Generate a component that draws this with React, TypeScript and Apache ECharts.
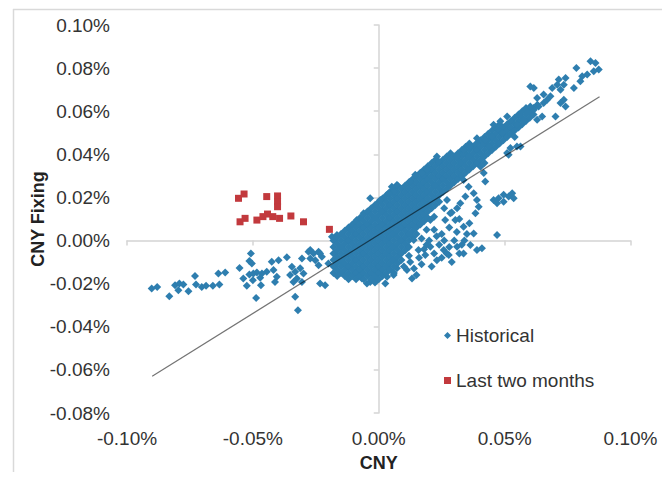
import React, { useEffect, useRef } from "react";
import * as echarts from "echarts";

// Daily moves, in percent: CNY spot (x) vs CNY fixing (y)
const historicalTail: number[][] = [
  [-0.0902, -0.0222], [-0.088, -0.0215], [-0.0832, -0.0258], [-0.0809, -0.0207], [-0.0792, -0.0199],
  [-0.0776, -0.0204], [-0.0796, -0.023], [-0.0756, -0.0235], [-0.073, -0.0164], [-0.0726, -0.0204],
  [-0.0703, -0.0215], [-0.0686, -0.021], [-0.0659, -0.021], [-0.0633, -0.0204], [-0.0637, -0.0153],
  [-0.061, -0.0148], [-0.0553, -0.0127], [-0.0538, -0.0176], [-0.0524, -0.021], [-0.0514, -0.0157],
  [-0.0508, -0.006], [-0.0514, -0.0095], [-0.0498, -0.0153], [-0.0484, -0.0148], [-0.0464, -0.0153],
  [-0.0471, -0.0173], [-0.05, -0.0184], [-0.0487, -0.0266], [-0.0468, -0.0207], [-0.0504, -0.0106],
  [-0.0425, -0.0098], [-0.0398, -0.0091], [-0.0365, -0.0078], [-0.0445, -0.0145], [-0.0418, -0.0137],
  [-0.0405, -0.0168], [-0.0412, -0.0192], [-0.0345, -0.0122], [-0.0332, -0.0145], [-0.0312, -0.0129],
  [-0.0299, -0.0153], [-0.0325, -0.0176], [-0.0305, -0.0192], [-0.0339, -0.0192], [-0.0352, -0.016],
  [-0.0279, -0.0052], [-0.0259, -0.006], [-0.0239, -0.0052], [-0.0226, -0.0075], [-0.0252, -0.0091],
  [-0.0239, -0.0114], [-0.0272, -0.0083], [-0.02, -0.0106], [-0.0233, -0.0199], [-0.0213, -0.0207],
  [-0.0332, -0.0261], [-0.0321, -0.0323], [-0.0305, -0.0083], [-0.0272, -0.0044], [-0.0233, -0.006],
  [-0.0186, 0.0018], [-0.0166, 0.0026], [-0.0074, -0.0137], [-0.0047, -0.0199], [-0.0014, -0.0184],
  [-0.0007, -0.0129], [-0.0113, 0.0049], [-0.0087, 0.0095], [-0.006, 0.0127], [-0.0034, 0.0196],
  [-0.0166, -0.0091], [-0.014, -0.0106], [-0.0113, -0.0122], [-0.0087, -0.0145], [-0.0067, -0.0176],
  [-0.0034, -0.0192], [-0.0021, -0.0153], [0.0006, -0.0137], [0.0026, -0.0199], [0.0033, -0.0168],
  [0.0059, -0.016], [0.0072, -0.0129], [0.0132, -0.0176], [0.0112, -0.0137], [0.0125, -0.0099],
];

// Dense core of the cloud, column by column: [x, y values]
const historicalCore: [number, number[]][] = [
  [-0.018, [0, -0.003, -0.006, -0.009, -0.012, -0.015]],
  [-0.0165, [0.0015, -0.0015, -0.0045, -0.0075, -0.0105, -0.0135, -0.0165]],
  [-0.015, [0.003, 0, -0.003, -0.006, -0.009, -0.012, -0.015]],
  [-0.0135, [0.0045, 0.0015, -0.0015, -0.0045, -0.0075, -0.0105, -0.0135, -0.0165]],
  [-0.012, [0.006, 0.003, 0, -0.003, -0.006, -0.009, -0.012, -0.015, -0.018]],
  [-0.0105, [0.0075, 0.0045, 0.0015, -0.0015, -0.0045, -0.0075, -0.0105, -0.0135, -0.0165]],
  [-0.009, [0.009, 0.006, 0.003, 0, -0.003, -0.006, -0.009, -0.012, -0.015, -0.018]],
  [-0.0075, [0.0105, 0.0075, 0.0045, 0.0015, -0.0015, -0.0045, -0.0075, -0.0105, -0.0135, -0.0165]],
  [-0.006, [0.012, 0.009, 0.006, 0.003, 0, -0.003, -0.006, -0.009, -0.012, -0.015, -0.018]],
  [-0.0045, [0.0135, 0.0105, 0.0075, 0.0045, 0.0015, -0.0015, -0.0045, -0.0075, -0.0105, -0.0135, -0.0165]],
  [-0.003, [0.015, 0.012, 0.009, 0.006, 0.003, 0, -0.003, -0.006, -0.009, -0.012, -0.015, -0.018]],
  [-0.0015, [0.0165, 0.0135, 0.0105, 0.0075, 0.0045, 0.0015, -0.0015, -0.0045, -0.0075, -0.0105, -0.0135, -0.0165, -0.0195]],
  [0, [0.018, 0.015, 0.012, 0.009, 0.006, 0.003, 0, -0.003, -0.006, -0.009, -0.012, -0.015, -0.018]],
  [0.0015, [0.0195, 0.0165, 0.0135, 0.0105, 0.0075, 0.0045, 0.0015, -0.0015, -0.0045, -0.0075, -0.0105, -0.0135, -0.0165]],
  [0.003, [0.021, 0.018, 0.015, 0.012, 0.009, 0.006, 0.003, 0, -0.003, -0.006, -0.009, -0.012, -0.015]],
  [0.0045, [0.0225, 0.0195, 0.0165, 0.0135, 0.0105, 0.0075, 0.0045, 0.0015, -0.0015, -0.0045, -0.0075, -0.0105, -0.0135]],
  [0.006, [0.024, 0.021, 0.018, 0.015, 0.012, 0.009, 0.006, 0.003, 0, -0.003, -0.006, -0.009, -0.012, -0.015]],
  [0.0075, [0.0255, 0.0225, 0.0195, 0.0165, 0.0135, 0.0105, 0.0075, 0.0045, 0.0015, -0.0015, -0.0045, -0.0075, -0.0105]],
  [0.009, [0.024, 0.021, 0.018, 0.015, 0.012, 0.009, 0.006, 0.003, 0, -0.003, -0.006, -0.009]],
  [0.0105, [0.0255, 0.0225, 0.0195, 0.0165, 0.0135, 0.0105, 0.0075, 0.0045, 0.0015, -0.0015, -0.0045]],
  [0.012, [0.027, 0.024, 0.021, 0.018, 0.015, 0.012, 0.009, 0.006, 0.003, 0, -0.003]],
  [0.0135, [0.0285, 0.0255, 0.0225, 0.0195, 0.0165, 0.0135, 0.0105, 0.0075, 0.0045, 0.0015]],
  [0.015, [0.03, 0.027, 0.024, 0.021, 0.018, 0.015, 0.012, 0.009, 0.006, 0.003]],
  [0.0165, [0.0315, 0.0285, 0.0255, 0.0225, 0.0195, 0.0165, 0.0135, 0.0105, 0.0075]],
  [0.018, [0.033, 0.03, 0.027, 0.024, 0.021, 0.018, 0.015, 0.012, 0.009]],
  [0.0195, [0.0345, 0.0315, 0.0285, 0.0255, 0.0225, 0.0195, 0.0165, 0.0135, 0.0105]],
  [0.021, [0.036, 0.033, 0.03, 0.027, 0.024, 0.021, 0.018, 0.015]],
  [0.0225, [0.0375, 0.0345, 0.0315, 0.0285, 0.0255, 0.0225, 0.0195, 0.0165]],
  [0.024, [0.036, 0.033, 0.03, 0.027, 0.024, 0.021, 0.018]],
  [0.0255, [0.0375, 0.0345, 0.0315, 0.0285, 0.0255, 0.0225]],
  [0.027, [0.039, 0.036, 0.033, 0.03, 0.027, 0.024]],
  [0.0285, [0.0405, 0.0375, 0.0345, 0.0315, 0.0285, 0.0255]],
  [0.03, [0.039, 0.036, 0.033, 0.03, 0.027]],
  [0.0315, [0.0405, 0.0375, 0.0345, 0.0315, 0.0285]],
  [0.033, [0.042, 0.039, 0.036, 0.033, 0.03]],
  [0.0345, [0.0435, 0.0405, 0.0375, 0.0345, 0.0315]],
  [0.036, [0.045, 0.042, 0.039, 0.036, 0.033]],
  [0.0375, [0.0435, 0.0405, 0.0375, 0.0345]],
  [0.039, [0.045, 0.042, 0.039, 0.036]],
  [0.0405, [0.0465, 0.0435, 0.0405, 0.0375, 0.0345]],
  [0.042, [0.048, 0.045, 0.042, 0.039, 0.036]],
  [0.0435, [0.0495, 0.0465, 0.0435, 0.0405]],
  [0.045, [0.051, 0.048, 0.045, 0.042]],
  [0.0465, [0.0525, 0.0495, 0.0465, 0.0435]],
  [0.048, [0.054, 0.051, 0.048, 0.045]],
  [0.0495, [0.0525, 0.0495, 0.0465]],
  [0.051, [0.054, 0.051, 0.048]],
  [0.0525, [0.0555, 0.0525, 0.0495]],
  [0.054, [0.057, 0.054, 0.051, 0.048]],
  [0.0555, [0.0585, 0.0555, 0.0525]],
  [0.057, [0.06, 0.057, 0.054]],
  [0.0585, [0.0615, 0.0585, 0.0555]],
  [0.06, [0.06, 0.057]],
  [0.0615, [0.0615, 0.0585]],
  [0.063, [0.063]],
];

const historicalUpper: number[][] = [
  [0.0841, 0.0832], [0.0861, 0.0824], [0.0874, 0.0793], [0.0854, 0.0785], [0.0828, 0.077],
  [0.0808, 0.0762], [0.0801, 0.0739], [0.0785, 0.0801], [0.0775, 0.0708], [0.0742, 0.0754],
  [0.0735, 0.0723], [0.0715, 0.0747], [0.0709, 0.0723], [0.0722, 0.07], [0.0735, 0.0653],
  [0.0742, 0.0622], [0.0722, 0.0638], [0.0689, 0.0708], [0.0682, 0.0669], [0.0669, 0.0653],
  [0.0655, 0.0677], [0.0655, 0.0638], [0.0702, 0.0576], [0.0616, 0.0708], [0.0629, 0.0661],
  [0.0635, 0.0622], [0.0616, 0.0607], [0.0602, 0.0622], [0.0589, 0.0592], [0.0649, 0.0576],
  [0.0629, 0.056], [0.0576, 0.056], [0.0549, 0.0537], [0.0549, 0.0436], [0.0523, 0.0429],
  [0.051, 0.0406], [0.0456, 0.0537], [0.0483, 0.0553], [0.049, 0.0499], [0.045, 0.0483],
  [0.0423, 0.0467], [0.0437, 0.0436], [0.039, 0.0475], [0.0364, 0.0436], [0.0337, 0.0406],
  [0.0311, 0.039], [0.0231, 0.039], [0.0238, 0.0367], [0.0192, 0.0328], [0.0172, 0.0313],
  [0.0125, 0.0274], [0.0145, 0.0305], [0.0072, 0.0258], [0.0052, 0.025], [0.0059, 0.0227],
  [0.0039, 0.022], [0.0006, 0.0188], [0.0337, 0.0421], [0.039, 0.0452], [0.051, 0.0576],
  [0.0602, 0.0715], [0.0563, 0.0436], [0.0516, 0.0398],
];

const historicalLower: number[][] = [
  [0.0417, 0.0313], [0.0423, 0.0274], [0.0456, 0.0188], [0.0476, 0.0196], [0.0496, 0.0212],
  [0.0516, 0.0204], [0.053, 0.022], [0.0536, 0.0196], [0.047, 0.0173], [0.0496, 0.018],
  [0.039, 0.0188], [0.0397, 0.0157], [0.0377, 0.022], [0.0384, 0.0127], [0.0357, 0.025],
  [0.0344, 0.0204], [0.0324, 0.0173], [0.0311, 0.015], [0.0284, 0.0127], [0.0264, 0.0095],
  [0.0304, 0.0095], [0.0337, 0.0064], [0.0377, 0.0033], [0.047, 0.0026], [0.039, -0.0044],
  [0.041, -0.0036], [0.0364, -0.0021], [0.0337, -0.006], [0.0311, -0.0029], [0.0278, -0.0067],
  [0.0258, -0.0044], [0.0231, -0.0091], [0.0205, -0.0029], [0.0185, -0.0067], [0.0158, -0.0044],
  [0.03, 0.0], [0.025, 0.003], [0.028, 0.006], [0.032, 0.01], [0.035, 0.003], [0.022, 0.005],
  [0.02, 0.0], [0.018, -0.004], [0.024, -0.002], [0.027, -0.006], [0.033, -0.002], [0.029, -0.01],
  [0.016, -0.008], [0.021, -0.012], [0.014, -0.013], [0.0271, 0.0188], [0.0205, 0.0095],
  [0.0139, 0.0002], [0.0404, 0.0343], [0.0337, 0.0281],
  [0.017, 0.001], [0.019, -0.002], [0.022, -0.006], [0.025, -0.008], [0.026, 0.0],
  [0.023, 0.002], [0.031, 0.004], [0.034, 0.0], [0.036, 0.008], [0.029, 0.013],
  [0.026, 0.015], [0.022, 0.011], [0.019, 0.005], [0.028, -0.003], [0.032, -0.006],
  [0.017, -0.011], [0.012, -0.007], [0.015, -0.016], [0.01, -0.012],
];

const lastTwoMonths: number[][] = [
  [-0.0557, 0.0196], [-0.0535, 0.0216], [-0.0445, 0.0204], [-0.0402, 0.0207], [-0.0402, 0.018],
  [-0.0402, 0.0157], [-0.0551, 0.0087], [-0.0531, 0.0103], [-0.0484, 0.0095], [-0.046, 0.0111],
  [-0.0442, 0.0123], [-0.0421, 0.0111], [-0.0394, 0.0103], [-0.0349, 0.0114], [-0.0299, 0.0087],
  [-0.0196, 0.0052],
];

// Fitted line endpoints
const trendLine: number[][] = [
  [-0.09, -0.063],
  [0.0877, 0.0667],
];

const xTicks = { min: -0.1, max: 0.1, interval: 0.05 };
const yTicks = { min: -0.08, max: 0.1, interval: 0.02 };

const FONT = "'Liberation Sans', Arial, sans-serif";
const TEXT = "#333333";
const AXIS = "#d4d4d4";
const BLUE = "#2e7eaf";
const RED = "#c2393d";

const pct = (v: number) => `${v.toFixed(2)}%`;

export default function App() {
  const ref = useRef<HTMLDivElement>(null);

  useEffect(() => {
    document.body.style.margin = "0";
    if (!ref.current) return;
    const chart = echarts.init(ref.current, undefined, { renderer: "svg" });
    const core = historicalCore.flatMap(([x, ys]) => ys.map((y) => [x, y]));
    const historical = [...historicalTail, ...core, ...historicalUpper, ...historicalLower];
    chart.setOption({
      animation: false,
      backgroundColor: "#ffffff",
      textStyle: { fontFamily: FONT },
      grid: { left: 127, right: 31.5, top: 25, bottom: 66, containLabel: false },
      xAxis: [
        {
          type: "value",
          ...xTicks,
          position: "bottom",
          name: "CNY",
          nameLocation: "middle",
          nameGap: 41,
          nameMoveOverlap: false,
          nameTextStyle: { fontFamily: FONT, fontSize: 18, fontWeight: "bold", color: "#222" },
          axisLine: { show: false, onZero: false },
          axisTick: { show: false },
          splitLine: { show: false },
          axisLabel: { formatter: pct, margin: 16, fontSize: 19, color: TEXT, fontFamily: FONT },
        },
        {
          type: "value",
          ...xTicks,
          position: "bottom",
          axisLine: { show: true, onZero: true, lineStyle: { color: AXIS, width: 1.5 } },
          axisTick: { show: true, length: 5, lineStyle: { color: AXIS, width: 1.5 } },
          axisLabel: { show: false },
          splitLine: { show: false },
        },
      ],
      yAxis: [
        {
          type: "value",
          ...yTicks,
          position: "left",
          name: "CNY Fixing",
          nameLocation: "middle",
          nameGap: 80,
          nameRotate: 90,
          nameMoveOverlap: false,
          nameTextStyle: { fontFamily: FONT, fontSize: 18, fontWeight: "bold", color: "#222" },
          axisLine: { show: false, onZero: false },
          axisTick: { show: false },
          splitLine: { show: false },
          axisLabel: { formatter: pct, margin: 17, fontSize: 19, color: TEXT, fontFamily: FONT },
        },
        {
          type: "value",
          ...yTicks,
          position: "left",
          axisLine: { show: true, onZero: true, lineStyle: { color: AXIS, width: 1.5 } },
          axisTick: { show: true, length: 5, lineStyle: { color: AXIS, width: 1.5 } },
          axisLabel: { show: false },
          splitLine: { show: false },
        },
      ],
      legend: {
        data: ["Historical", "Last two months"],
        orient: "vertical",
        left: 439,
        top: 321,
        itemGap: 26,
        itemWidth: 7,
        itemHeight: 7,
        textStyle: { fontSize: 19, color: TEXT, fontFamily: FONT },
      },
      graphic: [
        { type: "line", shape: { x1: 13, y1: 9.5, x2: 662, y2: 9.5 }, style: { stroke: "#d9d9d9", lineWidth: 1.5 } },
        { type: "line", shape: { x1: 13.5, y1: 9, x2: 13.5, y2: 472 }, style: { stroke: "#d9d9d9", lineWidth: 1.5 } },
      ],
      series: [
        {
          name: "Historical",
          type: "scatter",
          xAxisIndex: 0,
          yAxisIndex: 0,
          symbol: "diamond",
          symbolSize: 8,
          itemStyle: { color: BLUE, opacity: 1 },
          data: historical,
          z: 2,
        },
        {
          name: "Last two months",
          type: "scatter",
          xAxisIndex: 0,
          yAxisIndex: 0,
          symbol: "rect",
          symbolSize: 7,
          itemStyle: { color: RED, opacity: 1 },
          data: lastTwoMonths,
          z: 3,
        },
        {
          name: "Trend",
          type: "line",
          xAxisIndex: 0,
          yAxisIndex: 0,
          data: trendLine,
          showSymbol: false,
          symbol: "none",
          lineStyle: { color: "rgba(0,0,0,0.55)", width: 1.2 },
          z: 4,
        },
      ],
    });
    return () => chart.dispose();
  }, []);

  return <div ref={ref} style={{ width: 662, height: 479 }} />;
}
